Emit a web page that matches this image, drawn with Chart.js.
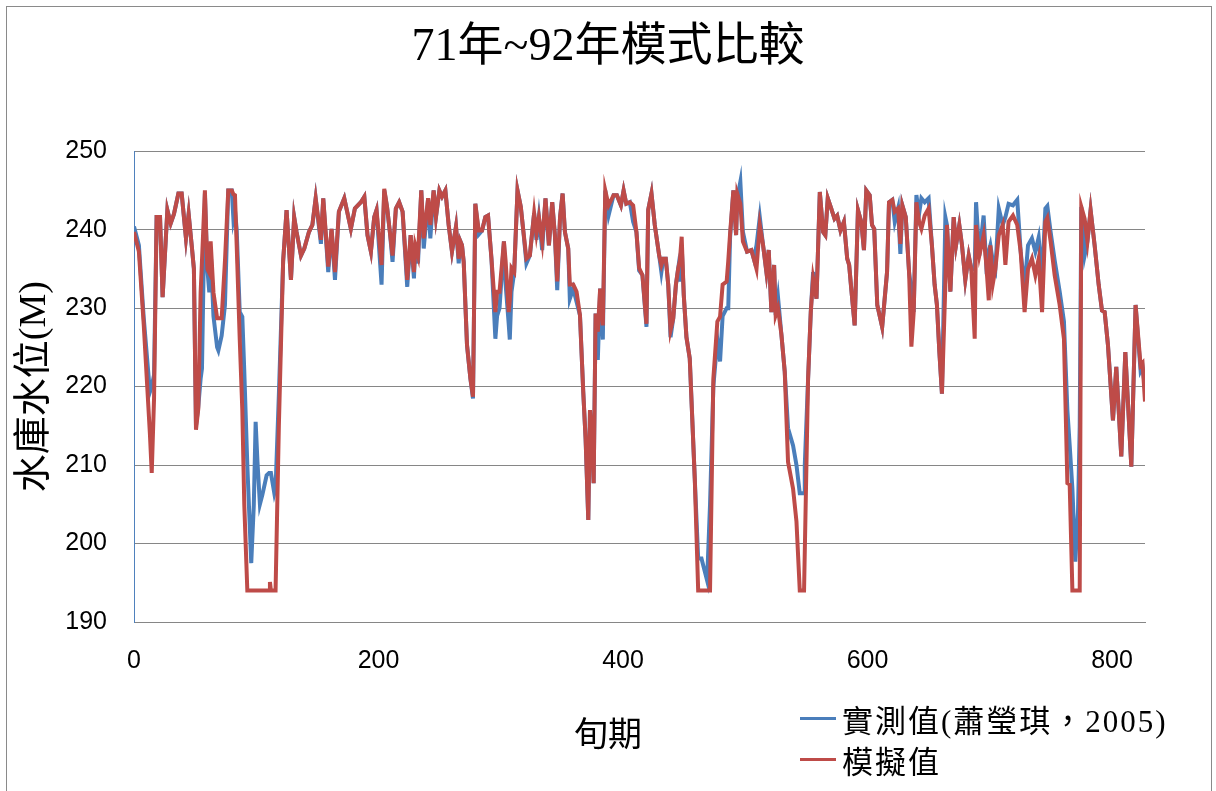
<!DOCTYPE html>
<html>
<head>
<meta charset="utf-8">
<script src="https://cdn.jsdelivr.net/npm/chart.js@4.4.1/dist/chart.umd.min.js"></script>
<style>
    html, body { margin: 0; padding: 0; background: #fff; overflow: hidden; }
    #wrap { position: relative; width: 1216px; height: 791px; }
    #frame { position: absolute; left: 6px; top: 6px; width: 1204px; height: 800px; border: 1px solid #8a8a8a; pointer-events: none; }
    #chart { position: absolute; left: 0; top: 0; }
    .serif { font-family: 'Liberation Serif', 'Noto Sans CJK TC', serif; color: #000; }
    #xtitle { position: absolute; left: 508px; width: 200px; top: 713px; text-align: center; font-size: 34px; line-height: 44px; }
    #legend { position: absolute; left: 800px; top: 698px; }
    .item { display: flex; align-items: center; height: 41px; font-size: 31px; letter-spacing: 2px; white-space: nowrap; }
    .swatch { width: 36px; height: 3px; margin-right: 6px; }
</style>
</head>
<body>
<div id="wrap">
    <canvas id="chart" width="1216" height="791"></canvas>
    <div id="frame"></div>
    <div id="xtitle" class="serif">旬期</div>
    <div id="legend" class="serif"></div>
</div>
<script>
// Data
const periods = [
    0, 4, 8, 13, 14.5, 16.4, 18.5, 21.3, 23.4, 27.3, 30, 32.7, 36.3, 39, 42.5, 44.7, 47.2, 49,
    50.7, 52.6, 54.5, 55.6, 58, 60, 61.6, 62.7, 65, 68, 69, 71.7, 74.4, 77.1, 80, 81.3, 82.6, 84,
    86.5, 88.6, 90.2, 92.7, 95.9, 98, 99.5, 101, 103, 105, 108.5, 110.5, 111.2, 112, 114.8, 115.8,
    118.5, 122, 124.8, 128.4, 131, 133, 136.6, 139.3, 143.1, 145.9, 148.6, 152.9, 154.8, 158.9,
    161.6, 164.4, 167.6, 172, 177.4, 180.7, 185.6, 188.4, 191, 193.8, 196.5, 198.4, 202.5, 204.7,
    207, 209.3, 211.5, 214.2, 216.9, 219.7, 223.5, 226.3, 229, 230.1, 232.3, 235, 237, 240.6,
    242.4, 245.1, 247, 249.8, 252, 254.7, 257.4, 260.1, 263.4, 265.6, 267, 268.3, 269.7, 272.4,
    275.2, 277.3, 279.2, 282, 284.7, 287.4, 289.6, 292.4, 295.6, 297, 299, 302.6, 304, 306.5,
    307.4, 308.8, 311, 313.7, 316.4, 318.3, 321, 323.8, 327.3, 329.2, 331.2, 333.9, 336.6, 339.4,
    342.1, 344.3, 346.2, 348.5, 350.6, 352.5, 355.2, 356.5, 359.3, 362, 364.8, 367.5, 369.4,
    371.6, 373, 374.9, 376, 377.6, 379.4, 381.3, 383.5, 385.5, 388.2, 392.3, 395, 398.3, 400.5,
    402.7, 405.6, 408.3, 411, 413.2, 415.9, 419.2, 420.6, 423.3, 426, 429.6, 431.4, 433, 435, 437,
    438.9, 441.1, 443.3, 445.2, 446.5, 448, 449.7, 451.9, 454.6, 458.7, 461.5, 464.2, 468.8,
    471.2, 473.9, 477.2, 479.4, 481.5, 484.8, 486.1, 487.6, 490.3, 492.5, 493.5, 496, 498.1,
    501.5, 505, 507, 509.2, 511.9, 514.6, 517.3, 519.2, 521.4, 523.6, 524.9, 526.8, 529.6, 532.3,
    535, 539.1, 541.9, 544.6, 548.1, 548.7, 551.4, 553.6, 555.5, 558.3, 561, 563.7, 565.5, 567.5,
    570.3, 573, 575.2, 577.9, 580.7, 583.4, 585, 586.7, 589.5, 592.2, 594.9, 597.1, 599, 601.8,
    603.7, 605.5, 608, 612, 616, 617.6, 620.3, 622.3, 625, 626.9, 628.5, 631.3, 634, 635.9, 637.8,
    640, 642.2, 644.1, 646.8, 650, 652.7, 654.9, 656.8, 658.8, 660.9, 663.7, 665, 667.8, 670.5,
    672.4, 675.1, 677.3, 680, 682.8, 684.9, 687.7, 688.8, 691.5, 695, 697, 699.2, 700.5, 702.5,
    704.6, 707.4, 710.6, 712.8, 715.4, 719, 722.5, 725.3, 728.5, 731.3, 734.5, 737.3, 740, 742.8,
    745.5, 747.1, 749.8, 753.1, 757.2, 760.7, 763.5, 765.4, 767.6, 770, 772.2, 773.6, 774.9,
    777.6, 779.9, 782.5, 785.8, 789.1, 791.8, 794, 796.7, 800.8, 803.5, 807.6, 810.9, 815.8,
    819.3, 823.4, 825, 827
];

const observed = [
    240.4, 238, 228.7, 219.3, 220, 221.5, 241.6, 241.6, 231.4, 242.5, 240.8, 242, 244.6, 244.6, 238.9, 242, 238, 235,
    215, 217.5, 221, 222.3, 244.6, 235, 232, 237.5, 229, 225, 224.6, 226.5, 230.4, 245, 245, 241.4, 242.5, 240,
    229.5, 228.9, 222, 210, 197.5, 204.9, 215.5, 210.4, 205, 206.2, 208.7, 209, 209, 209, 206.4, 207,
    219, 236, 242.5, 233.6, 241.6, 239.7, 236.7, 237.6, 239.7, 240.6, 244, 238.2, 244, 234.6,
    240.1, 233.6, 242.3, 244, 240.1, 242.7, 243.5, 244.2, 239.3, 237.2, 241.6, 242.5, 233, 245,
    242.9, 239.7, 235.9, 242.7, 243.5, 242.3, 232.7, 239.3, 233.8, 238, 235.7, 245, 237.6, 244,
    238.9, 245, 241.6, 245, 244.2, 245, 240.6, 237.2, 240.4, 235.7, 238.5, 238, 235.9, 225.3,
    221, 218.5, 243.3, 239.4, 239.9, 241.6, 241.8, 236.3, 226.1, 229, 230, 238.5, 233, 228,
    226, 232.1, 234.6, 245, 242.9, 240.1, 235.7, 236.7, 242.1, 238.7, 241.6, 237.4, 244, 238,
    243.5, 239.3, 232.3, 241.6, 244.6, 239.7, 237.6, 231.2, 232.5, 230.8, 229.1, 219.3, 213.4,
    203, 217, 212.5, 207.7, 229.3, 223.4, 232.5, 226, 245, 241.8, 244.4, 244.4, 243.1, 245,
    243.3, 243.5, 241, 239.7, 234.8, 234.2, 227.6, 242.5, 244.6, 240.6, 236.7, 234.6, 236.3, 236.3, 233,
    226.3, 228.7, 233, 235.1, 233.4, 238, 231.7, 226.3, 223.6, 208.3, 198.1, 198.1, 195.3,
    205, 220, 226, 223.2, 229, 230, 230, 239, 245, 239.3, 244, 246.1, 239.7,
    237.2, 237.4, 236.3, 238, 241.6, 238, 234.6, 237.4, 229.5, 235.5, 229.1, 231.4, 226.6, 221.9,
    214.7, 212.5, 210, 206.4, 206.4, 210, 221, 229.5, 234.6, 231.2, 244.8, 239.7, 239.3, 244,
    242.7, 241.4, 241.8, 239.9, 241, 236.3, 235.5, 232.5, 227.8, 242.5, 241, 237.4, 245, 244.4,
    240.6, 240.1, 230.4, 227.6, 234.6, 243.5, 243.8, 241, 242.7, 236.9, 243.1, 241.6, 234.6, 232.3, 229.5,
    244.4, 242, 244, 243.5, 244, 238, 233, 230.4, 224.4, 219.1, 241.6, 240.6, 232.1, 241.6,
    238, 240.6, 238, 233.6, 236.7, 235, 235, 243.5, 236.7, 241.8, 235.9, 237.2, 238, 236,
    235, 242.7, 240.6, 241.6, 243.3, 243.1, 243.8, 237.2, 232.5, 238, 238.9, 237.2, 239, 233.8,
    242.7, 243, 239.7, 236.1, 232.1, 228.3, 217, 212.5, 207, 197.7, 204, 215, 242.9,
    236.7, 238.5, 242.5, 238, 233, 229.7, 229.5, 225.3, 215.7, 222.5, 211.1, 224.4, 209.8,
    230.4, 222, 222.5, 219.8
];

const simulated = [
    239.7, 237.2, 227.8, 214, 209, 218.5, 241.6, 241.6, 231.4, 242.5, 240.8, 242, 244.6, 244.6, 238.9, 242, 238, 235,
    214.5, 217.2, 232, 236, 245, 235, 234.5, 238.5, 232, 228.7, 228.7, 228.7, 236, 245, 245, 244.5, 244.4, 238,
    226, 217, 205, 194, 194, 194, 194, 194, 194, 194, 194, 194, 195.1, 194, 194, 194,
    215, 236, 242.5, 233.6, 241.6, 239.7, 236.7, 237.6, 239.7, 240.6, 244, 238.7, 244, 235.3,
    240.1, 234.6, 242.3, 244, 240.1, 242.7, 243.5, 244.2, 239.3, 237.2, 241.6, 242.5, 235.5, 245.2,
    242.9, 239.7, 236.7, 242.7, 243.5, 242.3, 233.6, 239.3, 234.6, 238, 236.7, 245, 238.9, 244,
    240.6, 245, 241.6, 245, 244.2, 245, 240.6, 237.2, 240.4, 236.3, 238.5, 238, 235.9, 225.3,
    221, 218.7, 243.3, 239.9, 239.9, 241.6, 241.8, 236.3, 229.5, 232.1, 232.1, 238.5, 236, 229.5,
    231, 235.1, 234.6, 245, 242.9, 240.1, 236.3, 236.7, 242.1, 239.5, 241.6, 238.5, 244, 238,
    243.5, 239.3, 233.4, 241.6, 244.6, 239.7, 237.6, 233, 233, 232.1, 229.1, 219.3, 213.4,
    203, 217, 212.5, 207.7, 229.3, 227, 232.5, 227.8, 245, 243.1, 244.4, 244.4, 243.1, 245,
    243.3, 243.5, 243.1, 239.7, 235.1, 234.2, 228, 242.5, 244.6, 240.6, 236.7, 235.5, 236.3, 236.3, 233,
    227.2, 228.7, 233, 235.1, 236, 239.1, 231.7, 226.3, 223.6, 208.3, 194, 194, 194,
    194, 221, 228.3, 228.9, 233, 233.4, 236, 239.5, 245, 239.3, 244.6, 243.3, 238.5,
    237.2, 237.4, 236.3, 235, 240.6, 238, 234.6, 237.4, 229.5, 235.5, 229.1, 230, 226.6, 221.9,
    210.4, 207, 202.8, 194, 194, 194, 221, 229.5, 233.8, 231.2, 244.8, 239.7, 239.3, 244,
    242.7, 241.4, 241.8, 239.9, 241, 236.3, 235.5, 232.5, 227.8, 242.5, 241, 237.4, 245, 244.4,
    240.6, 240.1, 230.4, 227.6, 234.6, 243.5, 243.8, 242.3, 242.7, 238.2, 243.1, 241.6, 234.6, 225.1, 229.5,
    243.5, 241, 240.1, 241.8, 242.7, 238, 233, 230.4, 224.4, 219.1, 233, 240.6, 232.1, 241.6,
    238, 240.6, 238, 233.6, 236.7, 235, 226.1, 240.6, 236.7, 239.3, 235.9, 231, 238, 233.1,
    235, 239.3, 240.6, 235.5, 241, 241.8, 240.6, 237.2, 229.5, 235, 236.3, 234.2, 236.3, 229.5,
    241, 241.5, 238.5, 234.2, 230.4, 226.1, 207.7, 207.5, 194, 194, 194, 194, 242.9,
    241.4, 238.5, 242.5, 238, 233, 229.7, 229.5, 225.3, 215.7, 222.5, 211.1, 224.4, 209.8,
    230.4, 222.7, 223, 218.1
];

const xTicks = [0, 200, 400, 600, 800];
const yTicks = [190, 200, 210, 220, 230, 240, 250];

const seriesNames = ['實測值(蕭瑩琪，2005)', '模擬值'];
const seriesColors = ['#4A7EBB', '#BE4B48'];

const serif = "'Liberation Serif', 'Noto Sans CJK TC', serif";

function toPoints(values) {
    return periods.map((p, i) => ({ x: p, y: values[i] }));
}

const ctx = document.getElementById('chart').getContext('2d');
const chart = new Chart(ctx, {
    type: 'line',
    data: {
        datasets: [{
            label: seriesNames[0],
            data: toPoints(observed),
            borderColor: seriesColors[0],
            borderWidth: 4,
            pointRadius: 0,
            tension: 0,
            order: 2
        }, {
            label: seriesNames[1],
            data: toPoints(simulated),
            borderColor: seriesColors[1],
            borderWidth: 4,
            pointRadius: 0,
            tension: 0,
            order: 1
        }]
    },
    options: {
        responsive: false,
        animation: false,
        layout: { padding: 0 },
        plugins: {
            legend: { display: false },
            tooltip: { enabled: false },
            title: {
                display: true,
                text: '71年~92年模式比較',
                color: '#000',
                font: { family: serif, size: 46, weight: 'normal', lineHeight: 1.2 },
                padding: { top: 20, bottom: 76 }
            }
        },
        scales: {
            x: {
                type: 'linear',
                min: 0,
                max: 827,
                grid: { display: false, drawTicks: false },
                border: { display: true, color: '#868686' },
                afterBuildTicks: (scale) => { scale.ticks = xTicks.map(v => ({ value: v })); },
                afterFit: (scale) => { scale.height = 169; },
                ticks: {
                    color: '#000',
                    padding: 24,
                    maxRotation: 0,
                    font: { family: "'Liberation Sans', sans-serif", size: 25 }
                }
            },
            y: {
                min: 190,
                max: 250,
                grid: { color: '#868686', lineWidth: 1, drawTicks: false },
                border: { display: true, color: '#4F81BD' },
                afterBuildTicks: (scale) => { scale.ticks = yTicks.map(v => ({ value: v })); },
                afterFit: (scale) => { scale.width = 134; },
                ticks: {
                    color: '#000',
                    padding: 27,
                    font: { family: "'Liberation Sans', sans-serif", size: 25 }
                },
                title: {
                    display: true,
                    text: '水庫水位(M)',
                    color: '#000',
                    font: { family: serif, size: 38, lineHeight: 1.2 },
                    padding: { top: 12, bottom: 0 }
                }
            },
            // empty strip on the right so the title stays centred on the page
            spacer: {
                type: 'linear',
                position: 'right',
                grid: { display: false, drawTicks: false },
                border: { display: false },
                ticks: { display: false },
                afterFit: (scale) => { scale.width = 71; }
            }
        }
    }
});

// Legend stacked below the plot, on the right
const legendBox = document.getElementById('legend');
chart.data.datasets.forEach(ds => {
    const row = document.createElement('div');
    row.className = 'item';
    const sw = document.createElement('span');
    sw.className = 'swatch';
    sw.style.background = ds.borderColor;
    const label = document.createElement('span');
    label.textContent = ds.label;
    row.appendChild(sw);
    row.appendChild(label);
    legendBox.appendChild(row);
});
</script>
</body>
</html>
